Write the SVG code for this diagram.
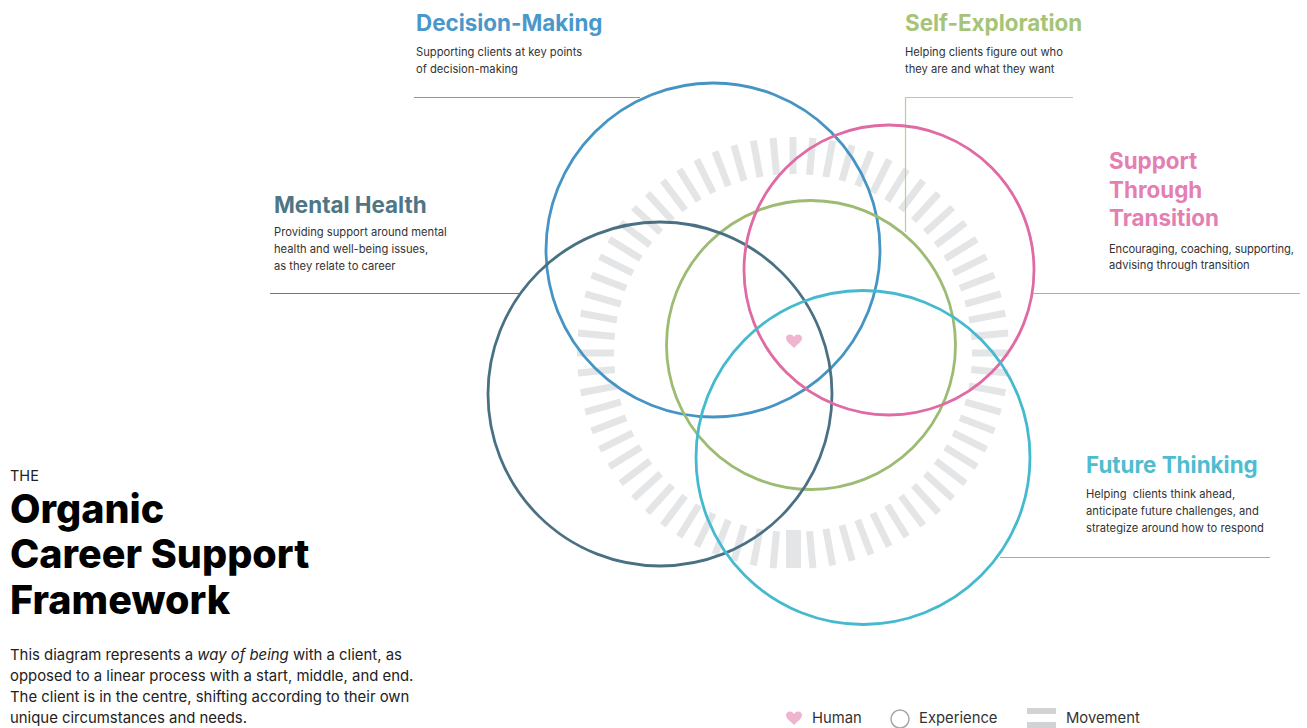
<svg xmlns="http://www.w3.org/2000/svg" width="1307" height="728" viewBox="0 0 1307 728">
<style>
text{font-family:"Inter","Liberation Sans",sans-serif;fill:#1d1d1d;white-space:pre}
.h{font-size:22.4px;font-weight:700}
.d{font-size:11.2px;fill:#333}
.t{font-size:39.5px;font-weight:800;fill:#000}
.b{font-size:14.9px;fill:#222}
.l{font-size:14.8px;fill:#333}
.ring{fill:none;stroke-width:2.800}
.lead{fill:none;stroke-width:1.200}
.tick{fill:#e4e5e7}
</style>
<defs>
<rect id="t" class="tick" x="789.5" y="137" width="7" height="37"/>
<path id="heart" d="M0 7C-3 3.500-8 1-8-3C-8-7-2-8 0-4C2-8 8-7 8-3C8 1 3 3.500 0 7Z"/>
</defs>
<rect width="1307" height="728" fill="#fff"/>
<g id="movement-ring">
<use href="#t" transform="rotate(0 793 353)"/><use href="#t" transform="rotate(5.29 793 353)"/><use href="#t" transform="rotate(10.59 793 353)"/><use href="#t" transform="rotate(15.88 793 353)"/><use href="#t" transform="rotate(21.18 793 353)"/><use href="#t" transform="rotate(26.47 793 353)"/><use href="#t" transform="rotate(31.76 793 353)"/><use href="#t" transform="rotate(37.06 793 353)"/><use href="#t" transform="rotate(42.35 793 353)"/><use href="#t" transform="rotate(47.65 793 353)"/><use href="#t" transform="rotate(52.94 793 353)"/><use href="#t" transform="rotate(58.24 793 353)"/><use href="#t" transform="rotate(63.53 793 353)"/><use href="#t" transform="rotate(68.82 793 353)"/><use href="#t" transform="rotate(74.12 793 353)"/><use href="#t" transform="rotate(79.41 793 353)"/><use href="#t" transform="rotate(84.71 793 353)"/><use href="#t" transform="rotate(90 793 353)"/><use href="#t" transform="rotate(95.29 793 353)"/><use href="#t" transform="rotate(100.59 793 353)"/><use href="#t" transform="rotate(105.88 793 353)"/><use href="#t" transform="rotate(111.18 793 353)"/><use href="#t" transform="rotate(116.47 793 353)"/><use href="#t" transform="rotate(121.76 793 353)"/><use href="#t" transform="rotate(127.06 793 353)"/><use href="#t" transform="rotate(132.35 793 353)"/><use href="#t" transform="rotate(137.65 793 353)"/><use href="#t" transform="rotate(142.94 793 353)"/><use href="#t" transform="rotate(148.24 793 353)"/><use href="#t" transform="rotate(153.53 793 353)"/><use href="#t" transform="rotate(158.82 793 353)"/><use href="#t" transform="rotate(164.12 793 353)"/><use href="#t" transform="rotate(169.41 793 353)"/><use href="#t" transform="rotate(174.71 793 353)"/><use href="#t" transform="rotate(185.29 793 353)"/><use href="#t" transform="rotate(190.59 793 353)"/><use href="#t" transform="rotate(195.88 793 353)"/><use href="#t" transform="rotate(201.18 793 353)"/><use href="#t" transform="rotate(206.47 793 353)"/><use href="#t" transform="rotate(211.76 793 353)"/><use href="#t" transform="rotate(217.06 793 353)"/><use href="#t" transform="rotate(222.35 793 353)"/><use href="#t" transform="rotate(227.65 793 353)"/><use href="#t" transform="rotate(232.94 793 353)"/><use href="#t" transform="rotate(238.24 793 353)"/><use href="#t" transform="rotate(243.53 793 353)"/><use href="#t" transform="rotate(248.82 793 353)"/><use href="#t" transform="rotate(254.12 793 353)"/><use href="#t" transform="rotate(259.41 793 353)"/><use href="#t" transform="rotate(264.71 793 353)"/><use href="#t" transform="rotate(270 793 353)"/><use href="#t" transform="rotate(275.29 793 353)"/><use href="#t" transform="rotate(280.59 793 353)"/><use href="#t" transform="rotate(285.88 793 353)"/><use href="#t" transform="rotate(291.18 793 353)"/><use href="#t" transform="rotate(296.47 793 353)"/><use href="#t" transform="rotate(301.76 793 353)"/><use href="#t" transform="rotate(307.06 793 353)"/><use href="#t" transform="rotate(312.35 793 353)"/><use href="#t" transform="rotate(317.65 793 353)"/><use href="#t" transform="rotate(322.94 793 353)"/><use href="#t" transform="rotate(328.24 793 353)"/><use href="#t" transform="rotate(333.53 793 353)"/><use href="#t" transform="rotate(338.82 793 353)"/><use href="#t" transform="rotate(344.12 793 353)"/><use href="#t" transform="rotate(349.41 793 353)"/><use href="#t" transform="rotate(354.71 793 353)"/>
<rect class="tick" x="786" y="530" width="15" height="38"/>
</g>
<g id="connectors">
<path class="lead" stroke="#5da6d0" d="M414 97.500H640"/>
<path class="lead" stroke="#b8d08c" d="M905.500 232V97.500H1073"/>
<path class="lead" stroke="#4f8496" d="M270 293.500H520"/>
<path class="lead" stroke="#e88cbd" d="M1033 293.500H1300"/>
<path class="lead" stroke="#5ec6d8" d="M1000 557.500H1270"/>
</g>
<g id="node-decision-making">
<circle class="ring" cx="713" cy="250" r="167" stroke="#4594c4"/>
<text class="h" x="416" y="31" style="fill:#4a98cb">Decision-Making</text>
<text class="d" x="416" y="56">Supporting clients at key points</text>
<text class="d" x="416" y="73">of decision-making</text>
</g>
<g id="node-self-exploration">
<circle class="ring" cx="811" cy="345" r="144.500" stroke="#9dbb72"/>
<text class="h" x="905" y="31" style="fill:#a5c477">Self-Exploration</text>
<text class="d" x="905" y="56">Helping clients figure out who</text>
<text class="d" x="905" y="73">they are and what they want</text>
</g>
<g id="node-mental-health">
<circle class="ring" cx="660" cy="394" r="172" stroke="#4a7183"/>
<text class="h" x="274" y="213" style="fill:#4e7686">Mental Health</text>
<text class="d" x="274" y="236">Providing support around mental</text>
<text class="d" x="274" y="253">health and well-being issues,</text>
<text class="d" x="274" y="270">as they relate to career</text>
</g>
<g id="node-support-through-transition">
<circle class="ring" cx="889" cy="270" r="145" stroke="#e06aa4"/>
<text class="h" x="1109" y="169" style="fill:#e57fb3">Support</text>
<text class="h" x="1109" y="198" style="fill:#e57fb3">Through</text>
<text class="h" x="1109" y="226" style="fill:#e57fb3">Transition</text>
<text class="d" x="1109" y="253" textLength="185">Encouraging, coaching, supporting,</text>
<text class="d" x="1109" y="269">advising through transition</text>
</g>
<g id="node-future-thinking">
<circle class="ring" cx="863" cy="457.500" r="167" stroke="#45bacf"/>
<text class="h" x="1086" y="473" style="fill:#4fbccf">Future Thinking</text>
<text class="d" x="1086" y="498">Helping  clients think ahead,</text>
<text class="d" x="1086" y="515">anticipate future challenges, and</text>
<text class="d" x="1086" y="532">strategize around how to respond</text>
</g>
<g id="node-human">
<use href="#heart" transform="translate(794 341)" fill="#efb4cf"/>
</g>
<g id="title">
<text x="10" y="481" style="font-size:14.500px;fill:#222">THE</text>
<text class="t" x="10" y="523">Organic</text>
<text class="t" x="10" y="568">Career Support</text>
<text class="t" x="10" y="614">Framework</text>
<text class="b" x="10" y="660">This diagram represents a <tspan font-style="italic">way of being</tspan> with a client, as</text>
<text class="b" x="10" y="681">opposed to a linear process with a start, middle, and end.</text>
<text class="b" x="10" y="702">The client is in the centre, shifting according to their own</text>
<text class="b" x="10" y="723">unique circumstances and needs.</text>
</g>
<g id="legend">
<use href="#heart" transform="translate(794 718)" fill="#efb4cf"/>
<text class="l" x="812" y="723">Human</text>
<circle cx="900" cy="719" r="9" fill="none" stroke="#a8a8a8" stroke-width="1.500"/>
<text class="l" x="919" y="723">Experience</text>
<rect x="1027" y="708" width="29" height="6" fill="#d2d3d5"/>
<rect x="1027" y="722" width="29" height="6" fill="#d2d3d5"/>
<text class="l" x="1066" y="723">Movement</text>
</g>
</svg>
